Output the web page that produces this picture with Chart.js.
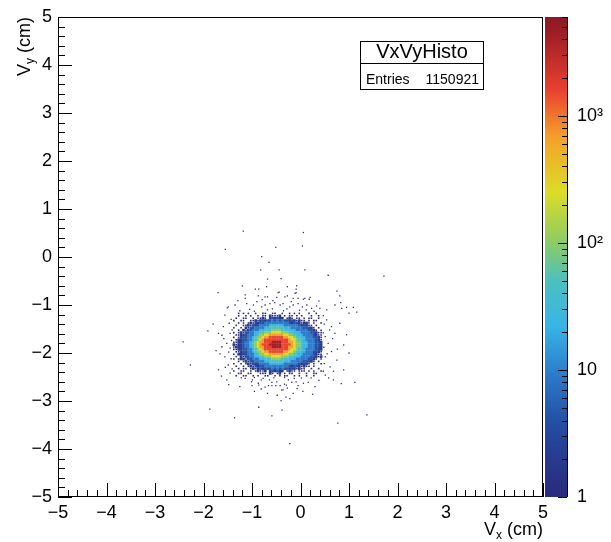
<!DOCTYPE html>
<html>
<head>
<meta charset="utf-8">
<script src="https://cdn.jsdelivr.net/npm/chart.js@4"></script>
<style>
  html, body { margin: 0; padding: 0; background: #fff; }
  canvas { display: block; }
</style>
</head>
<body>
<canvas id="histo" width="611" height="542"></canvas>
<script>
// axis ranges (cm) and colour scale range
const xRange = [-5, 5];
const yRange = [-5, 5];
const zRange = [1, 6000];
const zTickLabels = { 1: '1', 10: '10', 100: '10\u00B2', 1000: '10\u00B3' };

// dense core in 0.05 cm cells (one char per cell, '.' = empty)
const cellSize = 0.05;
const coreX0 = -1.375;   // centre of first column
const coreY0 = -1.175;   // centre of first row
const levelCounts = { '1': 1, '2': 2, '3': 4, '4': 9, '5': 22, '6': 50, '7': 100, '8': 250, '9': 700, 'a': 1600, 'b': 4500 };
const coreRows = [
  '..1.1.1..1 ..11..11.. 1..1.1.1.. .1..1..',
  '..1..1.1.. 1.11.21112 .1.11.1.1. ..1..1.',
  '.1..11..1. 1121.23232 2.121.11.1 .11..1.',
  '1..11..112 1232334343 4332321211 .1.11..',
  '..1.1.1213 2334444444 4443233212 21.1..1',
  '.1..112132 3444455555 5444444323 211.1..',
  '1..1.21334 4445566666 6555444443 3321.1.',
  '..1.213344 4556667777 6665554444 43321.1',
  '1.12133445 5667778888 7776655544 4433211',
  '.112234445 6778899999 9887766554 4443211',
  '1.12334456 77899aaaaa a998876655 4443321',
  '.122334456 789aaaaaaa aaa9887665 4444321',
  '1122344567 899aaabbbb aaa9987765 5444332',
  '2122344567 89aaabbbbb aaaa987765 5444332',
  '1222344567 899aaabbbb aaa9987765 5444332',
  '1122334456 789aaaaaaa aaa9887665 4444322',
  '.112334456 77899aaaaa a998876655 4443321',
  '1.22234445 6778899999 9887766554 4443211',
  '.1.2133445 5667778888 7776655544 4433212',
  '1.12213344 4556667777 6665554444 43321.1',
  '..1.121334 4445566666 6555444443 3321.1.',
  '1..1.12132 3444455555 5444444323 21.1..1',
  '.1..1.1213 2334444444 4443233212 11.1...',
  '..1.11.121 2323334343 4332321211 ..1..1.',
  '1..11..1.1 2112.23232 2.1211.111 .1.1..1',
  '..11..11.. .111.21.12 .1.11..1.. 1..11..',
  '.1..11..1. 1..11..1.1 .11..1.1.. 1..1...'
];

// single-entry bins scattered round the core
const haloX = [
  -1.18, 0.06, -1.55, -0.51, 0.04, -0.80, -0.65, -0.82, -0.44, 0.09, 0.57, 1.72, -0.68, -0.40,
  -1.20, -0.70, -0.27, -0.08, -1.70, -0.93, -0.86, -0.44, -0.09, -0.09, 0.75, -1.14, -1.14, -0.73,
  -0.68, -0.49, -0.27, -0.15, 0.06, 0.18, 0.83, -1.51, 0.40, 0.95, 1.09, 1.16, 1.00,
  -1.49, -1.35, -1.11, -0.97, -0.90, -0.80, -0.73, -0.63, -0.53, -0.42, -0.36, -0.22, -0.15, -0.05,
  0.04, 0.13, 0.23, 0.33, 0.54, 0.71, 0.85, -0.87, -0.46, -0.32, -0.11, -0.05, 0.09, 0.20, 0.81,
  -1.56, -1.59, -1.69, -1.62, -1.45, -1.52, -1.62, -1.45, -1.56, -1.49, -1.69, -1.45, -1.52,
  -2.42, -2.27, -1.91, -1.87,
  0.54, 0.64, 0.81, 0.71, 0.51, 0.57, 0.89, 0.64, 0.51, 0.75, 0.61, 0.89, 0.51, 0.68,
  -1.48, -0.99, -0.81, -0.64, -0.25, -1.00, -0.86, -0.81, -0.73, -0.66, -0.59, -0.51, -0.42, -0.59,
  -0.33, -0.18, -0.09, -0.05, -0.07, -0.27, -0.36, 0.16, 0.84, 1.12, -0.68, -0.40, -0.22, -0.86,
  -0.38, -0.59, -1.36, 1.37, 0.77, -0.22, -1.14, -1.01, -0.87, -0.49, -0.39, -0.29, 0.06, 0.30, -0.15,
  -1.43, -1.47, -1.41, -1.58, -1.42, -1.48, -1.66, -1.43, -1.55, -1.41, -1.63, -1.74, -1.80,
  0.47, 0.49, 0.60, 0.47, 0.66, 0.48, 0.76, 0.55, 0.49, 0.68, 0.47, 0.58, 1.00, 0.95,
  -1.25, -1.05, -0.95, -0.68, -0.58, -0.35, -0.28, -0.02, 0.12, 0.28, -0.79, -0.57, -0.19, 0.38, -1.29,
  -1.22, -0.95, -0.77, -0.55, -0.33, -0.13, 0.02, 0.22, 0.38, -1.25, -0.95, -0.48, 0.05, 0.25, -0.30
];
const haloY = [
  0.54, 0.51, 0.16, 0.20, 0.23, 0.01, -0.11, -0.27, -0.27, -0.27, -0.38, -0.40, -0.46, -0.45,
  -0.60, -0.62, -0.62, -0.60, -0.74, -0.67, -0.67, -0.73, -0.67, -0.74, -0.71, -0.79, -0.86, -0.83,
  -0.83, -0.84, -0.81, -0.86, -0.88, -0.88, -0.95, -1.06, -1.07, -1.05, -1.05, -1.15, -1.17,
  -1.04, -1.00, -0.97, -1.00, -0.93, -1.04, -1.00, -0.97, -0.95, -1.00, -0.97, -1.04, -1.00, -0.97,
  -1.04, -1.00, -1.07, -1.02, -1.10, -1.00, -1.07, -0.81, -0.74, -0.83, -0.76, -0.86, -0.86, -0.84, -0.81,
  -1.21, -1.45, -1.59, -1.63, -1.59, -1.80, -1.87, -1.90, -2.08, -2.25, -2.35, -2.42, -2.56,
  -1.77, -2.25, -1.54, -3.17,
  -1.31, -1.45, -1.38, -1.59, -1.66, -1.80, -1.83, -1.97, -2.08, -2.15, -2.29, -2.35, -2.46, -2.56,
  -2.66, -2.56, -2.56, -2.56, -2.56, -2.68, -2.67, -2.75, -2.71, -2.68, -2.68, -2.68, -2.68, -2.61,
  -2.65, -2.61, -2.60, -2.68, -2.74, -2.73, -2.77, -2.61, -2.64, -2.61, -2.84, -2.99, -2.95, -3.13,
  -3.19, -3.31, -3.35, -3.29, -3.46, -3.89, -2.53, -2.60, -2.63, -2.60, -2.77, -2.67, -2.63, -2.70, -2.84,
  -1.30, -1.38, -1.52, -1.70, -1.74, -1.98, -2.02, -2.12, -2.30, -2.33, -2.48, -1.95, -1.40,
  -1.22, -1.40, -1.52, -1.58, -1.70, -1.88, -1.92, -2.02, -2.22, -2.38, -2.38, -2.52, -2.00, -1.62,
  -1.12, -1.09, -1.13, -1.10, -1.08, -1.12, -1.08, -1.11, -1.10, -1.13, -0.89, -0.91, -0.93, -0.92, -0.91,
  -2.52, -2.51, -2.53, -2.52, -2.51, -2.53, -2.52, -2.52, -2.57, -2.70, -2.80, -2.88, -2.80, -2.86, -2.92
];

// colour palette (position along log z axis -> rgb)
const paletteStops = [0, 0.08, 0.16, 0.25, 0.355, 0.45, 0.53, 0.635, 0.75, 0.85, 0.965, 1];
const paletteRGB = [
  [42, 42, 125], [40, 58, 143], [36, 80, 165], [44, 120, 200], [56, 180, 230], [76, 192, 192],
  [140, 203, 100], [220, 220, 40], [244, 160, 42], [232, 64, 48], [160, 30, 38], [138, 26, 36]
];

function colorFor(v) {
  const f = Math.max(0, Math.min(1, Math.log10(Math.max(v, 1)) / Math.log10(zRange[1])));
  let k = 0;
  while (k < paletteStops.length - 2 && f > paletteStops[k + 1]) k++;
  const t = (f - paletteStops[k]) / (paletteStops[k + 1] - paletteStops[k]);
  const a = paletteRGB[k], b = paletteRGB[k + 1];
  const c = a.map((ch, i) => Math.round(ch + (b[i] - ch) * t));
  return `rgb(${c[0]}, ${c[1]}, ${c[2]})`;
}

const coreCells = [];
coreRows.forEach((row, j) => {
  row.replace(/ /g, '').split('').forEach((ch, i) => {
    if (levelCounts[ch]) {
      coreCells.push({ x: coreX0 + i * cellSize, y: coreY0 - j * cellSize, v: levelCounts[ch] });
    }
  });
});
const haloCells = haloX.map((x, i) => ({ x: x, y: haloY[i], v: 1 }));

const FONT = "'Liberation Sans', Arial, Helvetica, sans-serif";
const minus = v => (v < 0 ? '\u2212' + Math.abs(v) : String(v));

// cell side in pixels from the x scale; single-count cells drawn as one small bin
function cellRadius(ctx) {
  const sx = ctx.chart.scales.x;
  const side = Math.abs(sx.getPixelForValue(cellSize) - sx.getPixelForValue(0)) + 0.25;
  const s = ctx.raw && ctx.raw.v === 1 ? side * 0.6 : side;
  return s / Math.SQRT2;
}

const noPad = s => { s.paddingTop = 0; s.paddingBottom = 0; s.paddingLeft = 0; s.paddingRight = 0; };

// frame, inward ticks, palette, stats box and axis titles in ROOT style
const rootDecor = {
  id: 'rootDecor',
  beforeDraw(chart) {
    const ctx = chart.ctx;
    ctx.save();
    ctx.fillStyle = '#fff';
    ctx.fillRect(0, 0, chart.width, chart.height);
    ctx.restore();
  },
  afterDraw(chart) {
    const { ctx, chartArea: a, scales } = chart;
    ctx.save();
    ctx.strokeStyle = '#000';
    ctx.lineWidth = 1;
    ctx.strokeRect(a.left + 0.5, a.top + 0.5, a.right - a.left - 1, a.bottom - a.top - 1);

    // ticks on x and y, drawn inwards
    ctx.beginPath();
    for (let k = 0; k <= 50; k++) {
      const v = xRange[0] + k * 0.2;
      const len = k % 5 === 0 ? 14 : 7;
      const px = Math.round(scales.x.getPixelForValue(v)) + 0.5;
      ctx.moveTo(px, a.bottom);
      ctx.lineTo(px, a.bottom - len);
      const py = Math.round(scales.y.getPixelForValue(v)) + 0.5;
      ctx.moveTo(a.left, py);
      ctx.lineTo(a.left + len, py);
    }
    ctx.stroke();

    // palette
    const z = scales.z;
    const bx0 = a.right + 2, bx1 = a.right + 24;
    for (let py = Math.floor(a.top); py < a.bottom; py++) {
      ctx.fillStyle = colorFor(z.getValueForPixel(py + 0.5));
      ctx.fillRect(bx0, py, bx1 - bx0, 1);
    }
    ctx.beginPath();
    ctx.moveTo(bx1 + 0.5, a.top);
    ctx.lineTo(bx1 + 0.5, a.bottom);
    for (let d = 1; d <= 1000; d *= 10) {
      for (let m = 1; m <= 9; m++) {
        const v = d * m;
        if (v > zRange[1]) break;
        const py = Math.round(z.getPixelForValue(v)) + 0.5;
        const len = m === 1 ? 9 : 5;
        ctx.moveTo(bx1, py);
        ctx.lineTo(bx1 - len, py);
      }
    }
    ctx.stroke();

    // stats box
    ctx.fillStyle = '#fff';
    ctx.fillRect(360, 41, 123, 48);
    ctx.strokeRect(360.5, 41.5, 123, 48);
    ctx.beginPath();
    ctx.moveTo(360, 63.5);
    ctx.lineTo(484, 63.5);
    ctx.stroke();
    ctx.fillStyle = '#000';
    ctx.textBaseline = 'alphabetic';
    ctx.font = '20px ' + FONT;
    ctx.textAlign = 'center';
    ctx.fillText('VxVyHisto', 422, 58);
    ctx.font = '14px ' + FONT;
    ctx.textAlign = 'left';
    ctx.fillText('Entries', 366, 84);
    ctx.textAlign = 'right';
    ctx.fillText('1150921', 479, 84);

    // axis titles with subscripts
    const drawTitle = (sub) => {
      ctx.font = '18px ' + FONT;
      const wV = ctx.measureText('V').width;
      const wU = ctx.measureText(' (cm)').width;
      ctx.font = '12px ' + FONT;
      const wS = ctx.measureText(sub).width;
      const total = wV + wS + wU;
      ctx.textAlign = 'left';
      ctx.font = '18px ' + FONT;
      ctx.fillText('V', -total, 0);
      ctx.font = '12px ' + FONT;
      ctx.fillText(sub, -total + wV, 4);
      ctx.font = '18px ' + FONT;
      ctx.fillText(' (cm)', -total + wV + wS, 0);
    };
    ctx.save();
    ctx.translate(a.right, 535);
    drawTitle('x');
    ctx.restore();
    ctx.save();
    ctx.translate(30, a.top);
    ctx.rotate(-Math.PI / 2);
    drawTitle('y');
    ctx.restore();

    ctx.restore();
  }
};

new Chart(document.getElementById('histo').getContext('2d'), {
  type: 'scatter',
  data: {
    datasets: [
      {
        label: 'core',
        data: coreCells,
        pointStyle: 'rect',
        pointRadius: cellRadius,
        pointBorderWidth: 0,
        pointBackgroundColor: ctx => colorFor(ctx.raw.v)
      },
      {
        label: 'halo',
        data: haloCells,
        pointStyle: 'rect',
        pointRadius: 0.9,
        pointBorderWidth: 0,
        pointBackgroundColor: ctx => colorFor(ctx.raw.v)
      }
    ]
  },
  options: {
    responsive: false,
    devicePixelRatio: 1,
    animation: false,
    events: [],
    layout: { padding: { top: 17, left: 0, right: 0, bottom: 0 } },
    plugins: { legend: { display: false }, tooltip: { enabled: false } },
    scales: {
      x: {
        type: 'linear', position: 'bottom', min: xRange[0], max: xRange[1],
        grid: { display: false, drawTicks: false }, border: { display: false },
        ticks: { stepSize: 1, padding: 5, color: '#000', font: { family: FONT, size: 18 }, callback: minus, maxRotation: 0 },
        afterFit: s => { s.height = 45; noPad(s); }
      },
      y: {
        type: 'linear', position: 'left', min: yRange[0], max: yRange[1],
        grid: { display: false, drawTicks: false }, border: { display: false },
        ticks: { stepSize: 1, padding: 6, color: '#000', font: { family: FONT, size: 18 }, callback: minus },
        afterFit: s => { s.width = 58; noPad(s); }
      },
      z: {
        type: 'logarithmic', position: 'right', min: zRange[0], max: zRange[1],
        grid: { display: false, drawTicks: false }, border: { display: false },
        ticks: {
          autoSkip: false, padding: 34, color: '#000', font: { family: FONT, size: 18 },
          callback: v => zTickLabels[v] || ''
        },
        afterFit: s => { s.width = 68; noPad(s); }
      }
    }
  },
  plugins: [rootDecor]
});
</script>
</body>
</html>
